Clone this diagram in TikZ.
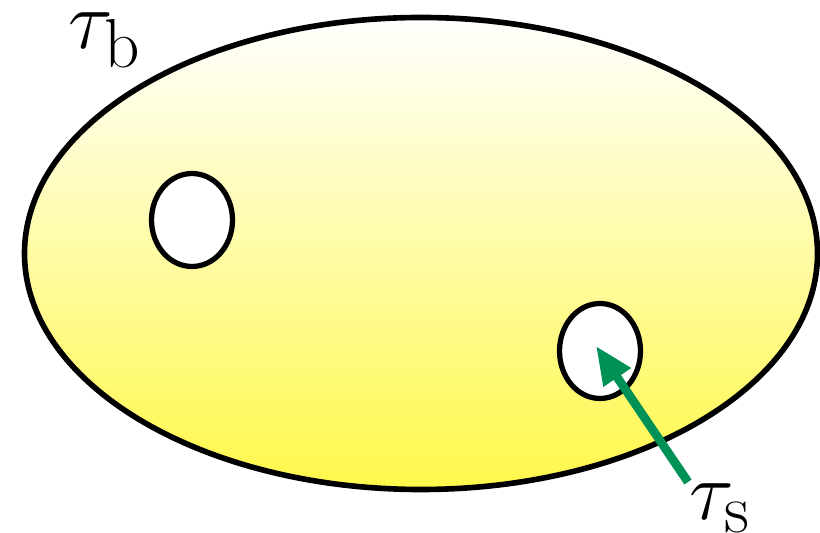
\documentclass[tikz,border=0pt]{standalone}
\usepackage{tikz}
\usetikzlibrary{arrows.meta,shapes.geometric}
\definecolor{amarillo}{HTML}{FFF84A}
\definecolor{verde}{HTML}{009157}

\begin{document}
\begin{tikzpicture}[font=\Huge,
  hueco/.style={ellipse, draw, line width=3pt, fill=white, inner sep=0pt},
  etiqueta/.style={scale=1.9, inner sep=0pt}]
\useasboundingbox (0,0) rectangle (16.4,10.66);
\node[ellipse, draw, line width=3.2pt, top color=white, bottom color=amarillo, minimum width=15.86cm, minimum height=9.44cm, inner sep=0pt] (tb) at (8.42,5.59) {};
\node[hueco, minimum width=1.62cm, minimum height=1.86cm] (h1) at (3.84,6.26) {};
\node[hueco, minimum width=1.62cm, minimum height=1.9cm] (h2) at (12.0,3.64) {};
\node[etiqueta] (lb) at (2.1,9.86) {$\tau_{\mathrm{b}}$};
\node[etiqueta] (ls) at (14.4,0.5) {$\tau_{\mathrm{s}}$};
\coordinate (cola) at (13.76,1.02);
\draw[-{Triangle[length=0.76cm, width=0.62cm]}, line width=5pt, verde] (cola) -- ([shift={(-0.08,0.1)}]h2.center);
\end{tikzpicture}
\end{document}
